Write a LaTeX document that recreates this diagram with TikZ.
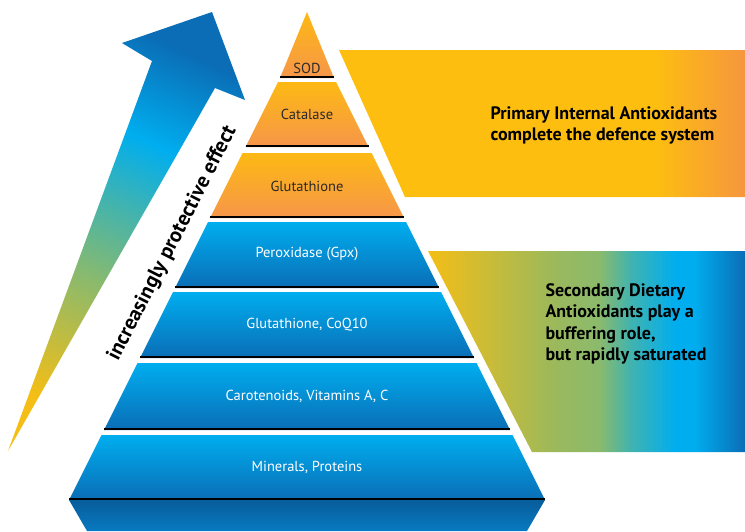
\documentclass[tikz,border=0pt]{standalone}
\usepackage{fontspec}
\setmainfont{PT Sans}

\definecolor{pyrYellow}{HTML}{FDB913}
\definecolor{pyrOrange}{HTML}{F6964A}
\definecolor{pyrCyan}{HTML}{00AEEF}
\definecolor{pyrBlue}{HTML}{0A6DB6}
\definecolor{pyrText}{HTML}{2B2A29}
\definecolor{boxYellow}{HTML}{FDBE10}
\definecolor{boxOrange}{HTML}{F6963F}
\definecolor{grYellow}{HTML}{F4BE16}
\definecolor{grOlive}{HTML}{9BB95C}
\definecolor{grGreen}{HTML}{8BBA6C}
\definecolor{grTeal}{HTML}{40B3B0}

\pgfdeclarehorizontalshading{primaryshade}{100bp}{color(0bp)=(boxYellow); color(25bp)=(boxYellow); color(64bp)=(boxYellow); color(75bp)=(boxOrange); color(100bp)=(boxOrange)}
\pgfdeclarehorizontalshading{secondaryshade}{100bp}{color(0bp)=(grYellow); color(25bp)=(grYellow); color(45bp)=(grOlive); color(52bp)=(grGreen); color(57bp)=(grTeal); color(64bp)=(pyrCyan); color(67bp)=(pyrCyan); color(75bp)=(pyrBlue); color(100bp)=(pyrBlue)}
\pgfdeclareverticalshading{effectshade}{100bp}{color(0bp)=(grYellow); color(25bp)=(grYellow); color(42bp)=(grGreen); color(53bp)=(grTeal); color(62bp)=(pyrCyan); color(75bp)=(pyrBlue); color(100bp)=(pyrBlue)}

\begin{document}
\begin{tikzpicture}[x=1pt, y=-1pt,
	layerlabel/.style={font=\fontsize{14.5}{16}\selectfont},
	boxtext/.style={font=\bfseries\fontsize{18}{21.3}\selectfont, align=left, anchor=west, text=black},
	orangelayer/.style={top color=pyrYellow, bottom color=pyrOrange},
	bluelayer/.style={top color=pyrCyan, bottom color=pyrBlue}]
	\useasboundingbox (0,0) rectangle (745,531);

	\shade[shading=effectshade, shading angle=-25] (8,451) -- (152,61) -- (122,43) -- (212,12) -- (245,100) -- (215,88) -- cycle;
	\node[font=\bfseries\fontsize{21}{23}\selectfont, rotate=63] (effect) at (172.5,243.5) {increasingly protective effect};

	\shade[shading=primaryshade] (339,50) -- (745,50) -- (745,197) -- (405,197) -- cycle;
	\shade[shading=secondaryshade] (428,251) -- (745,251) -- (745,452) -- (532,452) -- cycle;
	\node[boxtext] (primary) at (487,125.5) {Primary Internal Antioxidants\\complete the defence system};
	\node[boxtext] (secondary) at (542,324) {Secondary Dietary\\Antioxidants play a\\buffering role,\\but rapidly saturated};

	\shade[top color=pyrBlue!85!black, bottom color=pyrBlue!80!pyrCyan] (69,500) -- (545,500) -- (527,531) -- (87,531) -- cycle;
	\foreach \name/\ytop/\ybot/\ylab/\txt/\kind/\tc in {
		sod/12/78/68/SOD/orangelayer/pyrText,
		catalase/82/147/114/Catalase/orangelayer/pyrText,
		glutathione/153/218/186/Glutathione/orangelayer/pyrText,
		peroxidase/222/288/254/Peroxidase (Gpx)/bluelayer/white,
		coq/292/358/325/{Glutathione, CoQ10}/bluelayer/white,
		carotenoids/363/430/396/{Carotenoids, Vitamins A, C}/bluelayer/white,
		minerals/435/500/467/{Minerals, Proteins}/bluelayer/white}
	{
		\pgfmathsetmacro\wt{max(0,0.5*(\ytop-24))}
		\pgfmathsetmacro\wb{0.5*(\ybot-24)}
		\shade[\kind] (307-\wt,\ytop) -- (307+\wt,\ytop) -- (307+\wb,\ybot) -- (307-\wb,\ybot) -- cycle;
		\draw[line width=1.8pt] (307-\wb,\ybot-0.9) -- (307+\wb,\ybot-0.9);
		\node[layerlabel, text=\tc] (\name) at (307,\ylab) {\txt};
	}
\end{tikzpicture}
\end{document}
